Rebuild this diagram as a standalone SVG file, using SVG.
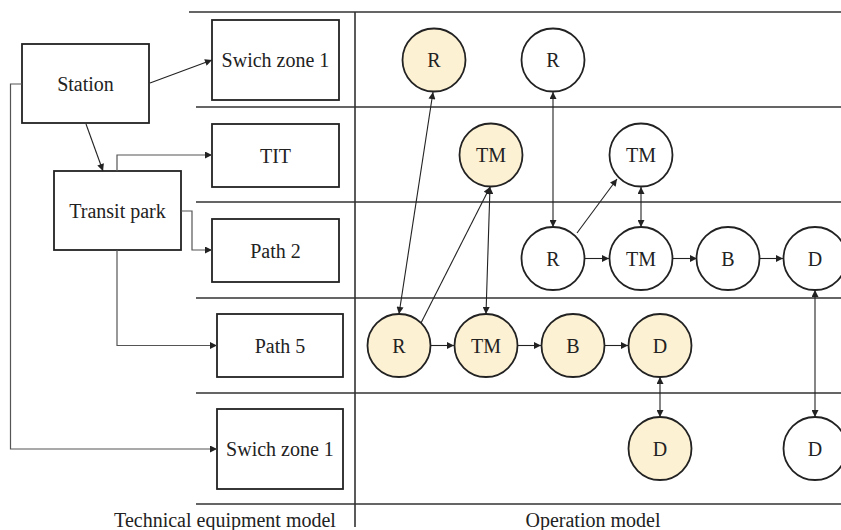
<svg xmlns="http://www.w3.org/2000/svg" width="841" height="530" viewBox="0 0 841 530">
  <style>
    text { font-family: "Liberation Serif", "Times New Roman", serif; font-size: 20px; fill: #222; text-anchor: middle; dominant-baseline: central; }
    .box { fill: #fff; stroke: #222; stroke-width: 1.8; }
    .op { fill: #fff; stroke: #222; stroke-width: 1.8; }
    .hl { fill: #fdf1d3; }
    .grid { stroke: #333; stroke-width: 1.6; fill: none; }
    .wire { stroke: #222; stroke-width: 1.1; fill: none; }
    .elbow { stroke: #555; stroke-width: 1.2; fill: none; }
    .lbl { dominant-baseline: alphabetic; }
  </style>
  <defs>
    <marker id="arr" viewBox="0 0 10 10" refX="10" refY="5" markerWidth="9" markerHeight="7" markerUnits="userSpaceOnUse" orient="auto-start-reverse">
      <path d="M0,0 L10,5 L0,10 Z" fill="#222"/>
    </marker>
  </defs>

  <!-- lane grid -->
  <g id="grid">
    <path class="grid" d="M189,12 H841 M196,107 H841 M196,202 H841 M196,298 H841 M196,393 H841 M196,504 H841 M355,12 V527"/>
  </g>

  <!-- equipment model -->
  <g id="station"><rect class="box" x="22" y="44" width="127" height="79"/><text x="85.5" y="84">Station</text></g>
  <g id="transit-park"><rect class="box" x="54" y="171" width="127" height="79"/><text x="117.5" y="211">Transit park</text></g>
  <g id="switch-zone-top"><rect class="box" x="212" y="20" width="127" height="80"/><text x="275.5" y="60">Swich zone 1</text></g>
  <g id="tit"><rect class="box" x="212" y="124" width="127" height="63"/><text x="275.5" y="155.5">TIT</text></g>
  <g id="path-2"><rect class="box" x="212" y="219" width="127" height="63"/><text x="275.5" y="250.5">Path 2</text></g>
  <g id="path-5"><rect class="box" x="217" y="314" width="126" height="63"/><text x="280" y="345.5">Path 5</text></g>
  <g id="switch-zone-bottom"><rect class="box" x="217" y="409" width="126" height="80"/><text x="280" y="449">Swich zone 1</text></g>

  <!-- operation model -->
  <g id="op-r1a"><circle class="op hl" cx="434" cy="60" r="31.5"/><text x="434" y="60">R</text></g>
  <g id="op-r1b"><circle class="op" cx="553" cy="60" r="31.5"/><text x="553" y="60">R</text></g>
  <g id="op-tm2a"><circle class="op hl" cx="491" cy="155" r="31.5"/><text x="491" y="155">TM</text></g>
  <g id="op-tm2b"><circle class="op" cx="641" cy="155" r="31.5"/><text x="641" y="155">TM</text></g>
  <g id="op-r3"><circle class="op" cx="553" cy="258.5" r="31.5"/><text x="553" y="258.5">R</text></g>
  <g id="op-tm3"><circle class="op" cx="641" cy="258.5" r="31.5"/><text x="641" y="258.5">TM</text></g>
  <g id="op-b3"><circle class="op" cx="728" cy="258.5" r="31.5"/><text x="728" y="258.5">B</text></g>
  <g id="op-d3"><circle class="op" cx="815" cy="258.5" r="31.5"/><text x="815" y="258.5">D</text></g>
  <g id="op-r4"><circle class="op hl" cx="399" cy="345.5" r="31.5"/><text x="399" y="345.5">R</text></g>
  <g id="op-tm4"><circle class="op hl" cx="486" cy="345.5" r="31.5"/><text x="486" y="345.5">TM</text></g>
  <g id="op-b4"><circle class="op hl" cx="573" cy="345.5" r="31.5"/><text x="573" y="345.5">B</text></g>
  <g id="op-d4"><circle class="op hl" cx="660" cy="345.5" r="31.5"/><text x="660" y="345.5">D</text></g>
  <g id="op-d5a"><circle class="op hl" cx="660" cy="448.5" r="31.5"/><text x="660" y="448.5">D</text></g>
  <g id="op-d5b"><circle class="op" cx="815" cy="448.5" r="31.5"/><text x="815" y="448.5">D</text></g>

  <!-- connectors -->
  <g id="connectors">
    <path class="wire" marker-end="url(#arr)" d="M150,83 L212,60"/>
    <path class="wire" marker-end="url(#arr)" d="M86,124 L103,171"/>
    <path class="elbow" marker-end="url(#arr)" d="M117,171 V155 H212"/>
    <path class="elbow" marker-end="url(#arr)" d="M181,211 H192 V250 H212"/>
    <path class="elbow" marker-end="url(#arr)" d="M117,250 V345.5 H217"/>
    <path class="elbow" marker-end="url(#arr)" d="M22,84 H10.5 V449 H217"/>

    <path class="wire" marker-start="url(#arr)" marker-end="url(#arr)" d="M399,314 L433,92"/>
    <path class="wire" marker-end="url(#arr)" d="M421,323 L490,187"/>
    <path class="wire" marker-start="url(#arr)" marker-end="url(#arr)" d="M486,314 L490,187"/>
    <path class="wire" marker-start="url(#arr)" marker-end="url(#arr)" d="M553,92 V227"/>
    <path class="wire" marker-end="url(#arr)" d="M577,233 L617,179"/>
    <path class="wire" marker-start="url(#arr)" marker-end="url(#arr)" d="M641,187 V227"/>
    <path class="wire" marker-end="url(#arr)" d="M585,258.5 H609"/>
    <path class="wire" marker-end="url(#arr)" d="M673,258.5 H697"/>
    <path class="wire" marker-end="url(#arr)" d="M760,258.5 H783"/>
    <path class="wire" marker-start="url(#arr)" marker-end="url(#arr)" d="M815,290 V417"/>
    <path class="wire" marker-end="url(#arr)" d="M431,345.5 H454"/>
    <path class="wire" marker-end="url(#arr)" d="M518,345.5 H541"/>
    <path class="wire" marker-end="url(#arr)" d="M605,345.5 H628"/>
    <path class="wire" marker-start="url(#arr)" marker-end="url(#arr)" d="M660,377 V417"/>
  </g>

  <!-- section captions -->
  <text class="lbl" x="225" y="527">Technical equipment model</text>
  <text class="lbl" x="593" y="527">Operation model</text>
</svg>
